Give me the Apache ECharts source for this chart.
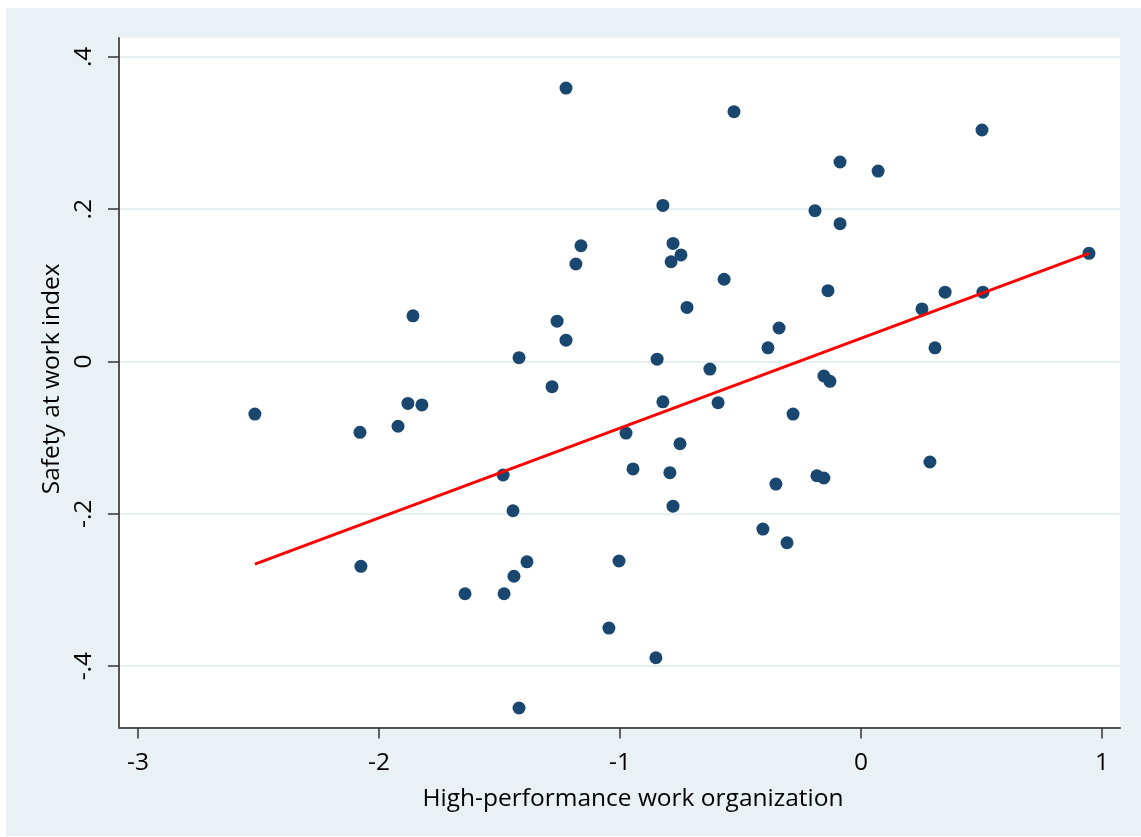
<!DOCTYPE html>
<html>
<head>
<meta charset="utf-8">
<script src="https://cdn.jsdelivr.net/npm/echarts@6/dist/echarts.min.js"></script>
<style>
  html, body { margin: 0; padding: 0; background: #ffffff; }
  #chart { position: absolute; left: 6px; top: 8px; width: 1135px; height: 828px; }
</style>
</head>
<body>
<div id="chart"></div>
<script>
// High-performance work organization (x) vs. safety at work index (y)
const hpwo = [
  -2.515, -2.079, -2.075, -1.921, -1.880, -1.859, -1.822, -1.643, -1.485, -1.481,
  -1.444, -1.440, -1.419, -1.419, -1.386, -1.282, -1.261, -1.224, -1.224, -1.183,
  -1.162, -1.046, -1.004, -0.975, -0.946, -0.851, -0.846, -0.822, -0.822, -0.793,
  -0.788, -0.780, -0.780, -0.751, -0.747, -0.722, -0.627, -0.593, -0.568, -0.527,
  -0.407, -0.386, -0.353, -0.340, -0.307, -0.282, -0.191, -0.183, -0.154, -0.154,
  -0.137, -0.129, -0.087, -0.087, 0.071, 0.253, 0.286, 0.307, 0.349, 0.502,
  0.506, 0.946
];
const safety = [
  -0.069, -0.093, -0.269, -0.085, -0.055, 0.060, -0.057, -0.305, -0.149, -0.305,
  -0.196, -0.282, 0.005, -0.455, -0.263, -0.033, 0.053, 0.359, 0.028, 0.128,
  0.152, -0.350, -0.262, -0.094, -0.141, -0.389, 0.003, 0.205, -0.053, -0.146,
  0.131, 0.155, -0.190, -0.108, 0.140, 0.071, -0.010, -0.054, 0.108, 0.328,
  -0.220, 0.018, -0.161, 0.044, -0.238, -0.069, 0.198, -0.150, -0.153, -0.019,
  0.093, -0.026, 0.262, 0.181, 0.250, 0.069, -0.132, 0.018, 0.091, 0.304,
  0.091, 0.142
];

// Linear fit endpoints
const fitX = [-2.515, 0.946];
const fitY = [-0.266, 0.142];

// Tick values and their labels
const xTicks = [-3, -2, -1, 0, 1];
const xTickLabels = ['-3', '-2', '-1', '0', '1'];
const yTicks = [-0.4, -0.2, 0, 0.2, 0.4];
const yTickLabels = ['-.4', '-.2', '0', '.2', '.4'];

const FONT = 'Open Sans';
const FONT_SIZE = 24.5;
const TEXT = '#000000';

const points = hpwo.map((x, i) => [x, safety[i]]);
const fitLine = fitX.map((x, i) => [x, fitY[i]]);

const chart = echarts.init(document.getElementById('chart'), null, { renderer: 'canvas' });

chart.setOption({
  backgroundColor: '#eaf1f4',
  animation: false,
  grid: {
    left: 113, top: 30, width: 1001, height: 689.5,
    show: true, backgroundColor: '#ffffff', borderWidth: 0,
    containLabel: false
  },
  xAxis: {
    type: 'value',
    min: -3.0788, max: 1.0747,
    name: 'High-performance work organization',
    nameLocation: 'middle',
    nameGap: 59,
    nameTextStyle: { fontFamily: FONT, fontSize: FONT_SIZE, color: TEXT, padding: [0, 0, 0, 27] },
    axisLine: { show: true, onZero: false, lineStyle: { color: '#555555', width: 2 } },
    axisTick: { show: true, customValues: xTicks, length: 11, lineStyle: { color: '#333333', width: 1.5 } },
    axisLabel: {
      customValues: xTicks,
      margin: 23,
      fontFamily: FONT, fontSize: FONT_SIZE, color: TEXT,
      formatter: v => xTickLabels[xTicks.findIndex(t => Math.abs(t - v) < 1e-9)]
    },
    splitLine: { show: false }
  },
  yAxis: {
    type: 'value',
    min: -0.4806, max: 0.4248,
    name: 'Safety at work index',
    nameLocation: 'middle',
    nameGap: 51,
    nameRotate: 90,
    nameTextStyle: { fontFamily: FONT, fontSize: FONT_SIZE, color: TEXT, padding: [0, 0, 0, 8] },
    axisLine: { show: true, onZero: false, lineStyle: { color: '#555555', width: 2 } },
    axisTick: { show: true, customValues: yTicks, length: 11, lineStyle: { color: '#333333', width: 1.5 } },
    axisLabel: {
      customValues: yTicks,
      rotate: 90,
      margin: 22,
      fontFamily: FONT, fontSize: FONT_SIZE, color: TEXT,
      formatter: v => yTickLabels[yTicks.findIndex(t => Math.abs(t - v) < 1e-9)]
    },
    splitLine: { show: true, lineStyle: { color: '#e6eef1', width: 2 } }
  },
  series: [
    {
      type: 'scatter',
      data: points,
      symbol: 'circle',
      symbolSize: 13,
      itemStyle: { color: '#1a476f', opacity: 1 },
      z: 3
    },
    {
      type: 'line',
      data: fitLine,
      symbol: 'none',
      lineStyle: { color: '#ff0000', width: 3 },
      z: 4
    }
  ]
});
</script>
</body>
</html>
